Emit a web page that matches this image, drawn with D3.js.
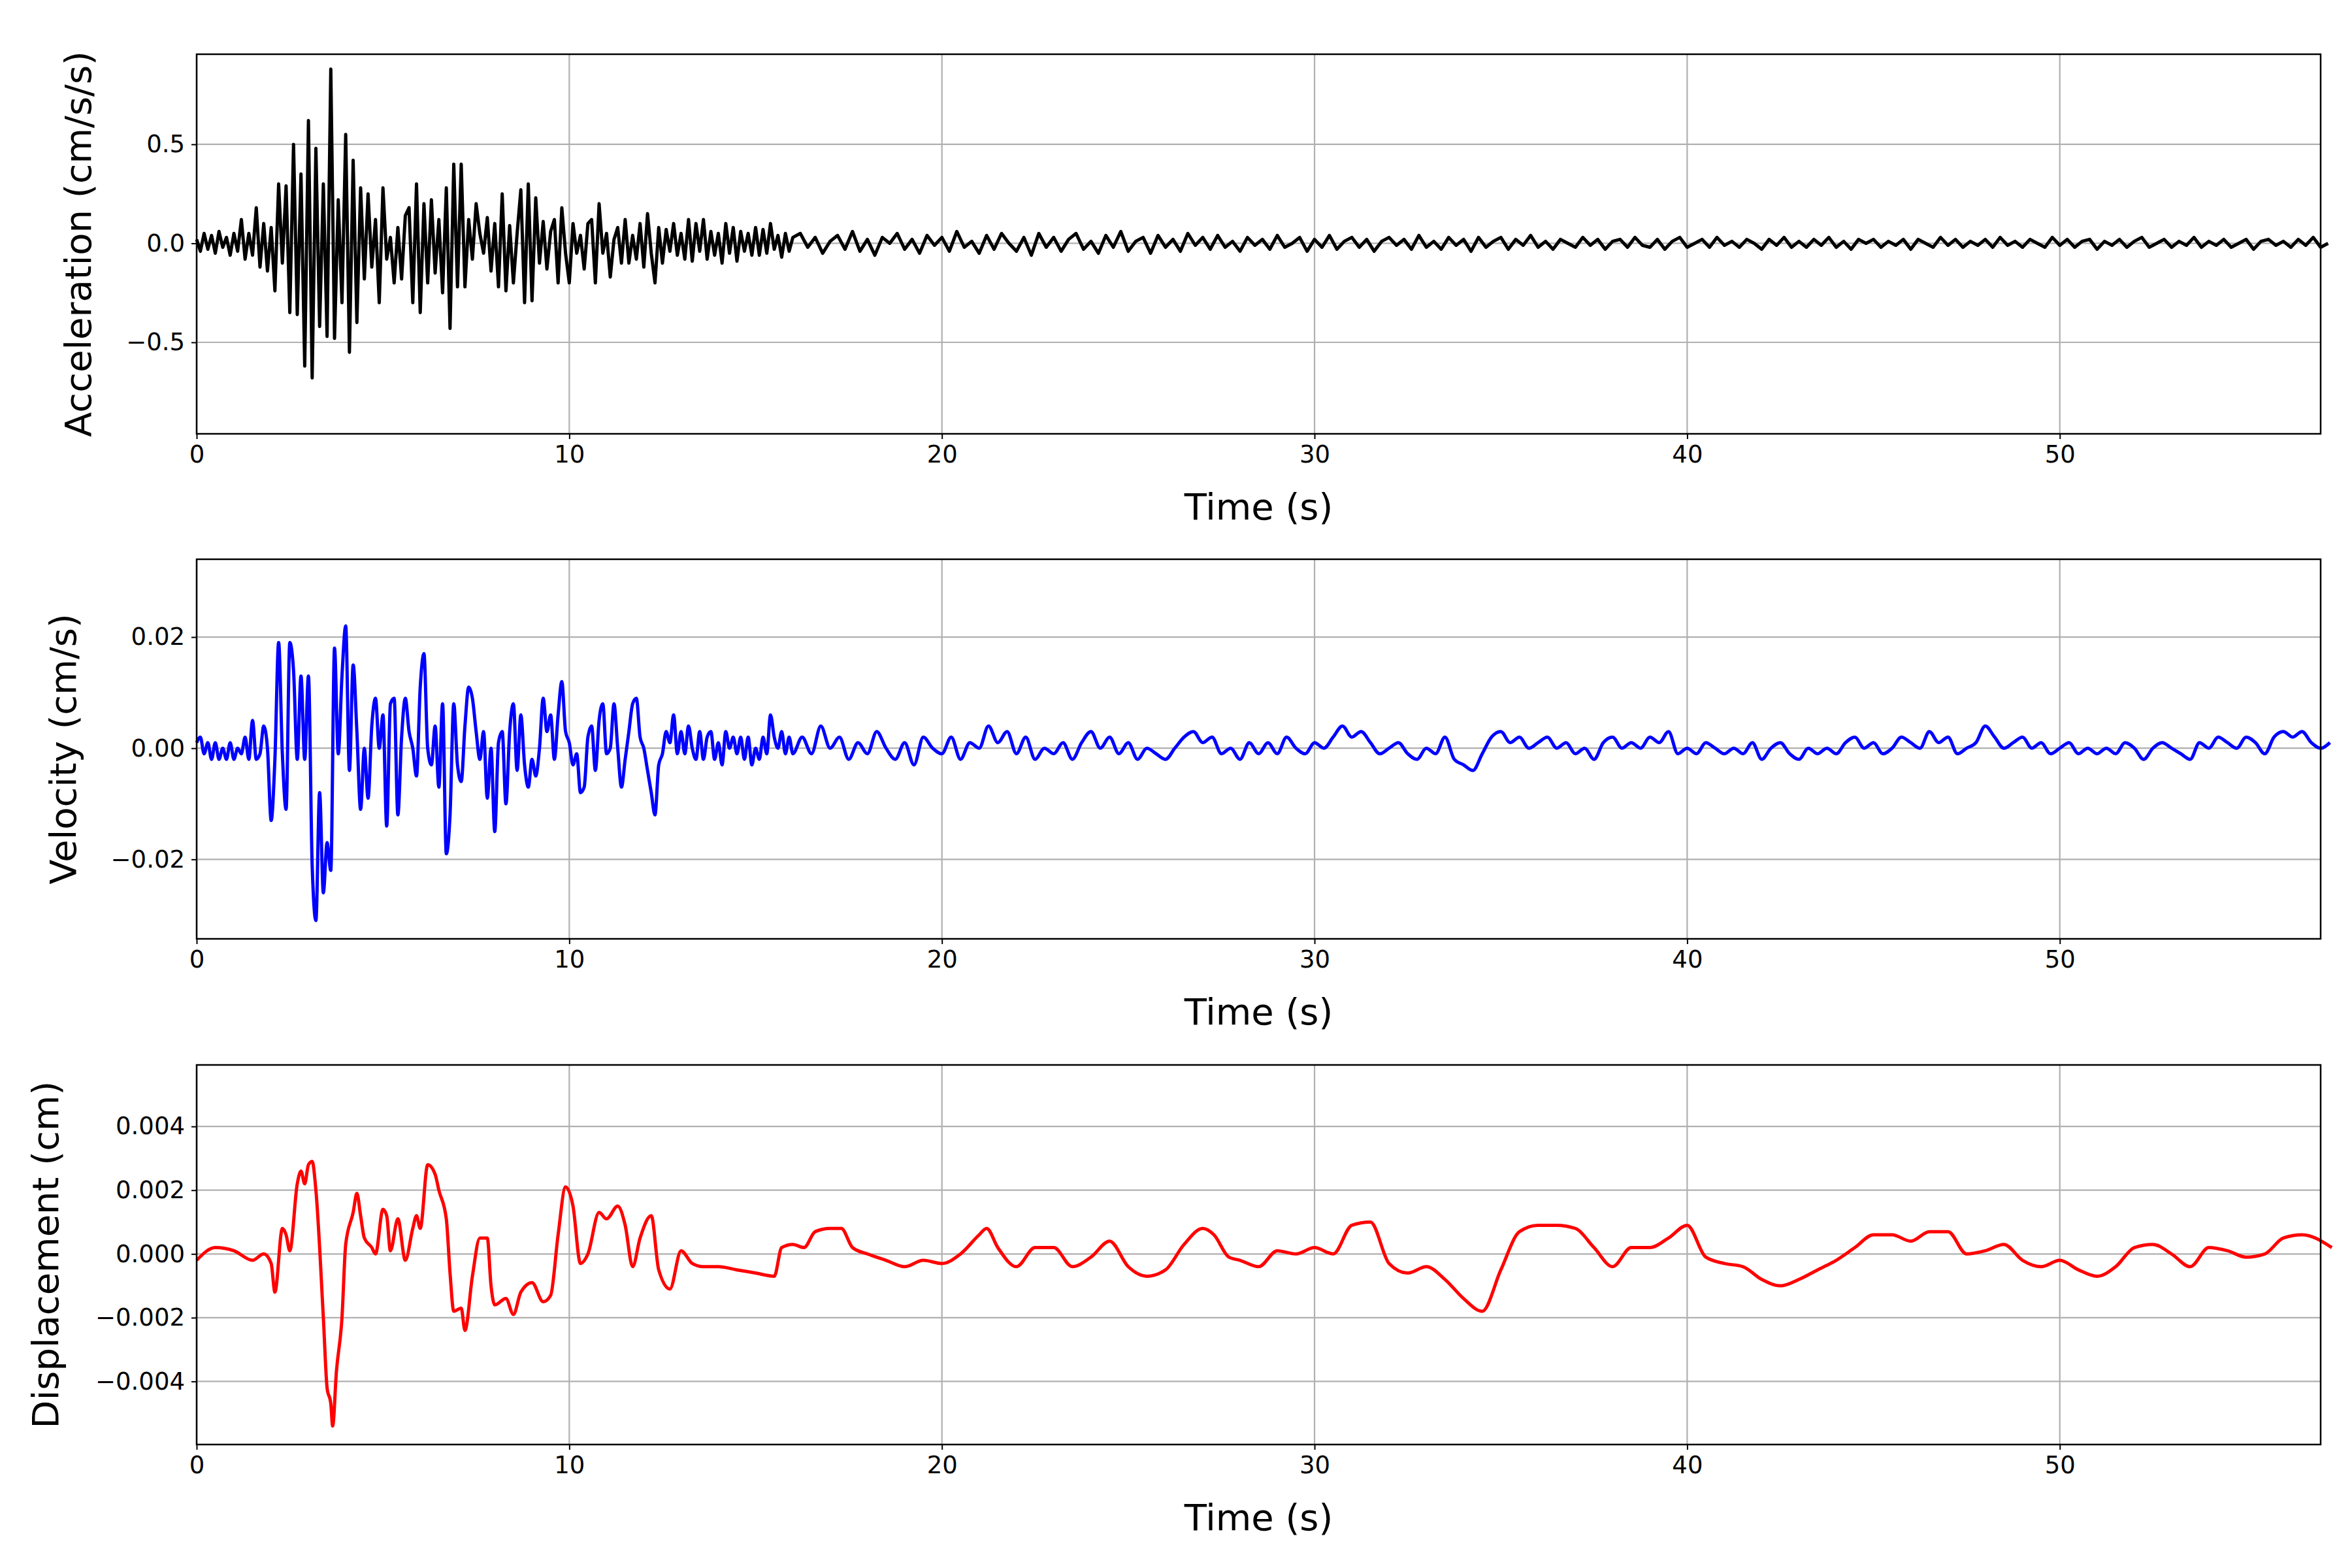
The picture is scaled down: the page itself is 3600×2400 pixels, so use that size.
<!DOCTYPE html>
<html>
<head>
<meta charset="utf-8" />
<title>Acceleration, Velocity, Displacement</title>
<script src="https://d3js.org/d3.v7.min.js"></script>
<style>
  body { margin: 0; background: #fff; }
  svg text { font-family: "DejaVu Sans", sans-serif; }
</style>
</head>
<body>
<div id="chart"></div>
<script>
// ---- data ----
var xTicks = [0, 10, 20, 30, 40, 50];

// acceleration, dense part 0..16 s every 0.1 s
var accHead = [
  0.02,-0.04,0.05,-0.03,0.04,-0.05,0.06,-0.02,0.03,-0.06,0.05,
  -0.04,0.12,-0.08,0.05,-0.06,0.18,-0.12,0.10,-0.14,0.08,
  -0.24,0.30,-0.10,0.29,-0.35,0.50,-0.36,0.35,-0.62,0.62,
  -0.68,0.48,-0.42,0.30,-0.47,0.88,-0.48,0.22,-0.30,0.55,
  -0.55,0.42,-0.40,0.28,-0.18,0.25,-0.12,0.12,-0.30,0.28,
  -0.08,0.03,-0.20,0.08,-0.18,0.14,0.18,-0.30,0.30,-0.35,
  0.20,-0.20,0.22,-0.15,0.12,-0.25,0.28,-0.43,0.40,-0.22,
  0.40,-0.22,0.12,-0.08,0.20,0.05,-0.05,0.13,-0.14,0.10,
  -0.22,0.25,-0.24,0.09,-0.20,0.05,0.27,-0.30,0.30,-0.29,
  0.23,-0.10,0.11,-0.13,0.06,0.12,-0.20,0.18,-0.05,-0.20,
  0.10,-0.05,0.04,-0.13,0.10,0.12,-0.20,0.20,-0.05,0.05,
  -0.17,0.02,0.08,-0.10,0.12,-0.10,0.04,-0.08,0.10,-0.12,
  0.15,-0.05,-0.20,0.08,-0.10,0.07,-0.04,0.10,-0.06,0.05,
  -0.08,0.12,-0.09,0.10,-0.04,0.12,-0.08,0.06,-0.06,0.05,
  -0.10,0.10,-0.05,0.08,-0.09,0.06,-0.04,0.05,-0.06,0.08,
  -0.06,0.07,-0.05,0.10,-0.03,0.04,-0.07,0.05,-0.04,0.03
];
// acceleration, tail 16.2..57.2 s every 0.2 s
var accTail = [
  0.05,-0.02,0.03,-0.05,0.01,0.04,-0.03,0.06,-0.04,0.02,
  -0.06,0.03,0.00,0.05,-0.03,0.02,-0.05,0.04,-0.01,0.03,
  -0.04,0.06,-0.02,0.01,-0.05,0.04,-0.03,0.05,0.00,-0.04,
  0.03,-0.06,0.05,-0.02,0.03,-0.04,0.02,0.05,-0.03,0.01,
  -0.05,0.04,-0.02,0.06,-0.04,0.01,0.03,-0.05,0.04,-0.02,
  0.02,-0.04,0.05,-0.01,0.03,-0.03,0.04,-0.02,0.01,-0.04,
  0.03,-0.01,0.02,-0.03,0.04,-0.02,0.00,0.03,-0.04,0.02,
  -0.02,0.04,-0.03,0.01,0.03,-0.02,0.02,-0.04,0.01,0.03,
  -0.01,0.02,-0.03,0.04,-0.02,0.01,-0.03,0.03,-0.01,0.02,
  -0.04,0.03,-0.02,0.01,0.03,-0.03,0.02,-0.01,0.04,-0.02,
  0.01,-0.03,0.02,0.00,-0.02,0.03,-0.01,0.02,-0.03,0.01,
  0.02,-0.02,0.03,-0.01,-0.02,0.02,-0.03,0.01,0.03,-0.02,
  0.00,0.02,-0.02,0.03,-0.01,0.01,-0.02,0.02,0.00,-0.03,
  0.02,-0.01,0.03,-0.02,0.01,-0.02,0.02,-0.01,0.03,-0.02,
  0.01,-0.03,0.02,0.00,0.02,-0.02,0.01,-0.01,0.02,-0.03,
  0.02,0.00,-0.02,0.03,-0.01,0.02,-0.02,0.01,-0.01,0.02,
  -0.02,0.03,-0.01,0.01,-0.02,0.02,0.00,-0.02,0.03,-0.01,
  0.02,-0.02,0.01,0.02,-0.03,0.01,-0.01,0.02,-0.02,0.01,
  0.03,-0.02,0.00,0.02,-0.02,0.01,-0.01,0.03,-0.02,0.01,
  -0.01,0.02,-0.02,0.00,0.02,-0.03,0.01,0.02,-0.01,0.01,
  -0.02,0.02,-0.01,0.03,-0.02,0.00
];

// velocity, dense part 0..16 s every 0.1 s
var velHead = [
  0.001,0.002,-0.001,0.001,-0.002,0.001,-0.002,0.000,-0.002,0.001,-0.002,
  0.000,-0.001,0.002,-0.002,0.005,-0.002,-0.001,0.004,0.000,-0.013,
  -0.002,0.019,-0.001,-0.011,0.019,0.014,-0.002,0.013,-0.002,0.013,
  -0.021,-0.031,-0.008,-0.026,-0.017,-0.022,0.018,-0.001,0.013,0.022,
  -0.004,0.015,0.003,-0.011,0.000,-0.009,0.004,0.009,0.000,0.006,
  -0.014,0.008,0.009,-0.012,0.002,0.009,0.003,0.000,-0.005,0.011,
  0.017,0.000,-0.003,0.004,-0.007,0.008,-0.019,-0.012,0.008,-0.003,
  -0.006,0.004,0.011,0.009,0.003,-0.002,0.003,-0.009,0.000,-0.015,
  0.001,0.003,-0.010,0.003,0.008,-0.004,0.006,-0.003,-0.007,-0.002,
  -0.005,0.000,0.009,0.003,0.006,-0.002,0.006,0.012,0.003,0.001,
  -0.003,-0.001,-0.008,-0.007,0.002,0.004,-0.004,0.005,0.008,-0.001,
  0.000,0.008,0.000,-0.007,-0.002,0.003,0.008,0.009,0.002,0.000,
  -0.004,-0.008,-0.012,-0.003,-0.001,0.003,0.001,0.006,-0.001,0.003,
  -0.001,0.004,0.000,-0.002,0.003,-0.002,0.002,0.003,-0.002,0.001,
  -0.003,0.003,0.000,0.002,-0.001,0.002,-0.002,0.002,-0.003,0.000,
  -0.002,0.002,-0.001,0.006,0.002,0.000,0.003,-0.001,0.002,-0.001
];
// velocity, tail 16.25..57.25 s every 0.25 s
var velTail = [
  0.002,-0.001,0.004,0.000,0.002,-0.002,0.001,-0.001,0.003,0.000,
  -0.002,0.001,-0.003,0.002,0.000,-0.001,0.002,-0.002,0.001,0.000,
  0.004,0.001,0.003,-0.001,0.002,-0.002,0.000,-0.001,0.001,-0.002,
  0.001,0.003,0.000,0.002,-0.001,0.001,-0.002,0.000,-0.001,-0.002,
  0.000,0.002,0.003,0.001,0.002,-0.001,0.000,-0.002,0.001,-0.001,
  0.001,-0.001,0.002,0.000,-0.001,0.001,0.000,0.002,0.004,0.002,
  0.003,0.001,-0.001,0.000,0.001,-0.001,-0.002,0.000,-0.001,0.002,
  -0.002,-0.003,-0.004,-0.001,0.002,0.003,0.001,0.002,0.000,0.001,
  0.002,0.000,0.001,-0.001,0.000,-0.002,0.001,0.002,0.000,0.001,
  0.000,0.002,0.001,0.003,-0.001,0.000,-0.001,0.001,0.000,-0.001,
  0.000,-0.001,0.001,-0.002,0.000,0.001,-0.001,-0.002,0.000,-0.001,
  0.000,-0.001,0.001,0.002,0.000,0.001,-0.001,0.000,0.002,0.001,
  0.000,0.003,0.001,0.002,-0.001,0.000,0.001,0.004,0.002,0.000,
  0.001,0.002,0.000,0.001,-0.001,0.000,0.001,-0.001,0.000,-0.001,
  0.000,-0.001,0.001,0.000,-0.002,0.000,0.001,0.000,-0.001,-0.002,
  0.001,0.000,0.002,0.001,0.000,0.002,0.001,-0.001,0.002,0.003,
  0.002,0.003,0.001,0.000,0.001
];

// displacement, (time, value) pairs
var dispTime = [
  0,0.5,1,1.5,1.8,2.0,2.1,2.3,2.4,2.5,2.7,2.8,2.9,3.0,3.1,3.2,3.4,3.5,3.6,3.65,3.75,3.9,
  4.0,4.2,4.3,4.4,4.5,4.7,4.8,5.0,5.1,5.2,5.4,5.6,5.8,5.9,6.0,6.2,6.4,6.5,6.7,6.8,6.9,
  7.1,7.2,7.4,7.6,7.8,7.9,8.0,8.3,8.5,8.7,9.0,9.3,9.5,9.7,9.9,10.1,10.3,10.5,10.8,11.0,
  11.3,11.5,11.7,11.9,12.2,12.4,12.7,13.0,13.3,13.6,14.0,14.5,15.0,15.5,15.7,16.0,16.3,
  16.6,17.0,17.3,17.6,18.0,18.5,19,19.5,20,20.5,21,21.2,21.5,22,22.5,23,23.5,24,24.5,
  25,25.5,26,26.5,27,27.3,27.7,28,28.5,29,29.5,30,30.5,31,31.5,32,32.5,33,33.5,34,34.5,
  35,35.5,36,36.5,37,37.5,38,38.5,39,39.5,40,40.5,41,41.5,42,42.5,43,43.5,44,44.5,45,
  45.5,46,46.5,47,47.5,48,48.5,49,49.5,50,50.5,51,51.5,52,52.5,53,53.5,54,54.5,55,55.5,
  56,56.5,57.3
];
var dispVals = [
  -0.0002,0.0002,0.0001,-0.0002,0.0000,-0.0003,-0.0012,0.0008,0.0006,0.0001,0.0022,0.0026,0.0022,0.0028,0.0029,0.0020,-0.0020,-0.0042,-0.0047,-0.0054,-0.0037,-0.0020,
  0.0003,0.0013,0.0019,0.0012,0.0005,0.0002,0.0000,0.0014,0.0012,0.0001,0.0011,-0.0002,0.0008,0.0012,0.0008,0.0028,0.0025,0.0020,0.0011,-0.0006,-0.0018,
  -0.0017,-0.0024,-0.0007,0.0005,0.0005,-0.0010,-0.0016,-0.0014,-0.0019,-0.0012,-0.0009,-0.0015,-0.0013,0.0006,0.0021,0.0015,-0.0003,0.0000,0.0013,0.0011,
  0.0015,0.0009,-0.0004,0.0005,0.0012,-0.0005,-0.0011,0.0001,-0.0003,-0.0004,-0.0004,-0.0005,-0.0006,-0.0007,0.0002,0.0003,0.0002,
  0.0007,0.0008,0.0008,0.0002,0.0000,-0.0002,-0.0004,-0.0002,-0.0003,0.0000,0.0006,0.0008,0.0002,-0.0004,0.0002,0.0002,-0.0004,-0.0001,0.0004,
  -0.0004,-0.0007,-0.0005,0.0003,0.0008,0.0006,-0.0001,-0.0002,-0.0004,0.0001,0.0000,0.0002,0.0000,0.0009,0.0010,-0.0003,-0.0006,-0.0004,-0.0008,-0.0014,-0.0018,
  -0.0005,0.0007,0.0009,0.0009,0.0008,0.0002,-0.0004,0.0002,0.0002,0.0005,0.0009,-0.0001,-0.0003,-0.0004,-0.0008,-0.0010,-0.0008,-0.0005,-0.0002,0.0002,0.0006,
  0.0006,0.0004,0.0007,0.0007,0.0000,0.0001,0.0003,-0.0002,-0.0004,-0.0002,-0.0005,-0.0007,-0.0004,0.0002,0.0003,0.0000,-0.0004,0.0002,0.0001,-0.0001,0.0000,
  0.0005,0.0006,0.0002
];

// ---- build point lists ----
function series(head, tail, t0, dt) {
  var pts = head.map(function (v, i) { return [i * 0.1, v]; });
  tail.forEach(function (v, i) { pts.push([t0 + i * dt, v]); });
  return pts;
}
var accPts = series(accHead, accTail, 16.2, 0.2);
var velPts = series(velHead, velTail, 16.25, 0.25);
var dispPts = dispTime.map(function (t, i) { return [t, dispVals[i]]; });

var panels = [
  { pts: accPts, color: "#000000", label: "Acceleration (cm/s/s)", domain: [-0.962, 0.955],
    ticks: [-0.5, 0, 0.5], fmt: d3.format(".1f"), top: 83, curve: d3.curveLinear, lx: 119 },
  { pts: velPts, color: "#0000ff", label: "Velocity (cm/s)", domain: [-0.0343, 0.0340],
    ticks: [-0.02, 0, 0.02], fmt: d3.format(".2f"), top: 856, curve: d3.curveMonotoneX, lx: 96 },
  { pts: dispPts, color: "#ff0000", label: "Displacement (cm)", domain: [-0.00598, 0.00593],
    ticks: [-0.004, -0.002, 0, 0.002, 0.004], fmt: d3.format(".3f"), top: 1630, curve: d3.curveMonotoneX, lx: 69 }
];

var W = 3600, H = 2400;
var left = 301, right = 3552, ph = 581;

var svg = d3.select("#chart").append("svg")
  .attr("width", W).attr("height", H)
  .attr("viewBox", [0, 0, W, H]);

var x = d3.scaleLinear().domain([0, 57.0]).range([left, right]);

function minusFmt(f) {
  return function (d) { return f(d).replace("-", "\u2212"); };
}

panels.forEach(function (p) {
  var y = d3.scaleLinear().domain(p.domain).range([p.top + ph, p.top]);
  var g = svg.append("g");

  // grid
  g.append("g").selectAll("line").data(xTicks).join("line")
    .attr("x1", d => x(d)).attr("x2", d => x(d))
    .attr("y1", p.top).attr("y2", p.top + ph)
    .attr("stroke", "#b0b0b0").attr("stroke-width", 2.2);
  g.append("g").selectAll("line").data(p.ticks).join("line")
    .attr("x1", left).attr("x2", right)
    .attr("y1", d => y(d)).attr("y2", d => y(d))
    .attr("stroke", "#b0b0b0").attr("stroke-width", 2.2);

  // data line
  g.append("path")
    .datum(p.pts)
    .attr("fill", "none")
    .attr("stroke", p.color)
    .attr("stroke-width", 5)
    .attr("stroke-linejoin", "round")
    .attr("d", d3.line().x(d => x(d[0])).y(d => y(d[1])).curve(p.curve));

  // frame
  g.append("rect")
    .attr("x", left).attr("y", p.top).attr("width", right - left).attr("height", ph)
    .attr("fill", "none").attr("stroke", "#000").attr("stroke-width", 2.5);

  // axes
  var xa = g.append("g")
    .attr("transform", "translate(0," + (p.top + ph) + ")")
    .call(d3.axisBottom(x).tickValues(xTicks).tickSize(8).tickPadding(10).tickFormat(d3.format("d")));
  var ya = g.append("g")
    .attr("transform", "translate(" + left + ",0)")
    .call(d3.axisLeft(y).tickValues(p.ticks).tickSize(8).tickPadding(10).tickFormat(minusFmt(p.fmt)));
  [xa, ya].forEach(function (a) {
    a.select(".domain").remove();
    a.selectAll("line").attr("stroke-width", 2);
    a.selectAll("text").attr("font-size", 37).attr("font-family", "DejaVu Sans");
  });

  // labels
  g.append("text")
    .attr("x", (left + right) / 2).attr("y", p.top + ph + 111)
    .attr("text-anchor", "middle").attr("dominant-baseline", "central").attr("font-size", 56)
    .text("Time (s)");
  g.append("text")
    .attr("transform", "translate(" + p.lx + "," + (p.top + ph / 2) + ") rotate(-90)")
    .attr("text-anchor", "middle").attr("dominant-baseline", "central").attr("font-size", 56)
    .text(p.label);
});
</script>
</body>
</html>
